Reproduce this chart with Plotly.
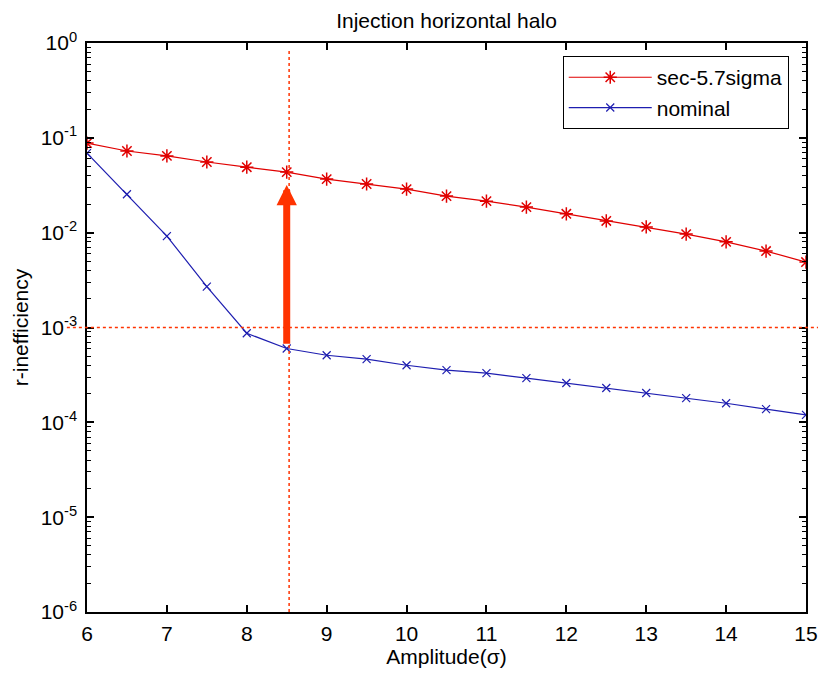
import math
import plotly.graph_objects as go

amplitude = [6, 6.5, 7, 7.5, 8, 8.5, 9, 9.5, 10, 10.5, 11, 11.5, 12, 12.5, 13, 13.5, 14, 14.5, 15]
sec_57sigma = [0.088, 0.0726, 0.0645, 0.0556, 0.049, 0.0435, 0.0367, 0.0326, 0.0288, 0.0243,
               0.0215, 0.0186, 0.0158, 0.0133, 0.0115, 0.00966, 0.0080, 0.0064, 0.0049]
nominal = [0.069, 0.0254, 0.0092, 0.0027, 0.00087, 0.0006, 0.00051, 0.000464, 0.0004, 0.000355,
           0.00033, 0.000293, 0.00026, 0.00023, 0.000204, 0.00018, 0.000159, 0.000138, 0.00012]

ytick_vals = [1e-6, 1e-5, 1e-4, 1e-3, 1e-2, 1e-1, 1]
ytick_text = ["10<sup>-6</sup>", "10<sup>-5</sup>", "10<sup>-4</sup>", "10<sup>-3</sup>",
              "10<sup>-2</sup>", "10<sup>-1</sup>", "10<sup>0</sup>"]

# marked operating point and the threshold
cut_x = 8.53
threshold = 1e-3
arrow_x = 8.5
arrow_from = 0.00065
arrow_to = 0.0318

font = "Liberation Sans, Arial, sans-serif"
red = "#E00000"
blue = "#1E1EB0"
orange = "#FF3300"

# log minor ticks 2..9 in each decade, like matlab draws them
minor_vals = [m * d for d in ytick_vals[:-1] for m in range(2, 10)]

fig = go.Figure()
fig.add_trace(go.Scatter(x=amplitude, y=sec_57sigma, mode="lines+markers", name="sec-5.7sigma",
                         line=dict(color=red, width=1.2),
                         marker=dict(symbol="asterisk-open", size=11, color=red,
                                     line=dict(width=1.5, color=red))))
fig.add_trace(go.Scatter(x=amplitude, y=nominal, mode="lines+markers", name="nominal",
                         line=dict(color=blue, width=1.2),
                         marker=dict(symbol="x-thin-open", size=8, color=blue,
                                     line=dict(width=1.2, color=blue))))
# empty trace so the minor tick axis gets drawn
fig.add_trace(go.Scatter(x=amplitude, y=nominal, yaxis="y2", mode="none", showlegend=False,
                         hoverinfo="skip"))

# dotted guide lines
fig.add_shape(type="line", xref="paper", yref="y", x0=-0.028, x1=1.017, y0=threshold, y1=threshold,
              line=dict(color=orange, width=1.5, dash="dot"), layer="above")
fig.add_shape(type="line", xref="x", yref="paper", x0=cut_x, x1=cut_x, y0=0, y1=0.988,
              line=dict(color=orange, width=1.5, dash="dot"), layer="above")

fig.add_annotation(x=arrow_x, y=math.log10(arrow_to), ax=arrow_x, ay=math.log10(arrow_from),
                   xref="x", yref="y", axref="x", ayref="y", text="", showarrow=True,
                   arrowhead=2, arrowsize=0.58, arrowwidth=7, arrowcolor=orange, standoff=0)

fig.update_layout(
    width=818, height=675,
    margin=dict(l=87, r=12, t=43, b=63),
    paper_bgcolor="white", plot_bgcolor="white",
    font=dict(family=font, size=21, color="black"),
    title=dict(text="Injection horizontal halo", x=0.5, xref="paper", y=0.970, yanchor="middle",
               font=dict(family=font, size=21, color="black")),
    legend=dict(x=0.976, y=0.977, xanchor="right", yanchor="top", bgcolor="white",
                bordercolor="black", borderwidth=1, font=dict(family=font, size=21),
                itemwidth=83, tracegroupgap=0),
    showlegend=True,
    # second axis only to draw the small log ticks on both sides
    yaxis2=dict(type="log", range=[-6, 0], overlaying="y", side="left", anchor="x",
                tickmode="array", tickvals=minor_vals, showticklabels=False,
                ticks="inside", ticklen=4, tickcolor="black", tickwidth=1.2,
                mirror="ticks", showline=False, showgrid=False, zeroline=False,
                automargin=False),
)
fig.update_xaxes(range=[6, 15], dtick=1, showgrid=False, zeroline=False, showline=True,
                 linecolor="black", linewidth=1.5, mirror="ticks", ticks="inside", ticklen=7,
                 tickwidth=1.5, tickcolor="black", tickfont=dict(size=21), ticklabelstandoff=2,
                 automargin=False, title=dict(text="Amplitude(σ)", font=dict(size=21), standoff=5))
fig.update_layout(yaxis=dict(type="log", range=[-6, 0], tickvals=ytick_vals, ticktext=ytick_text,
                             showgrid=False, zeroline=False, showline=True, linecolor="black",
                             linewidth=1.5, mirror="ticks", ticks="inside", ticklen=7,
                             tickwidth=1.5, tickcolor="black", tickfont=dict(size=21),
                             ticklabelstandoff=4, automargin=False,
                             title=dict(text="r-inefficiency", font=dict(size=21), standoff=6)))

# the page's default body margin would push the chart out of the window
fig.write_html("out.html", config={"displayModeBar": False},
               post_script="document.body.style.margin='0px';")
